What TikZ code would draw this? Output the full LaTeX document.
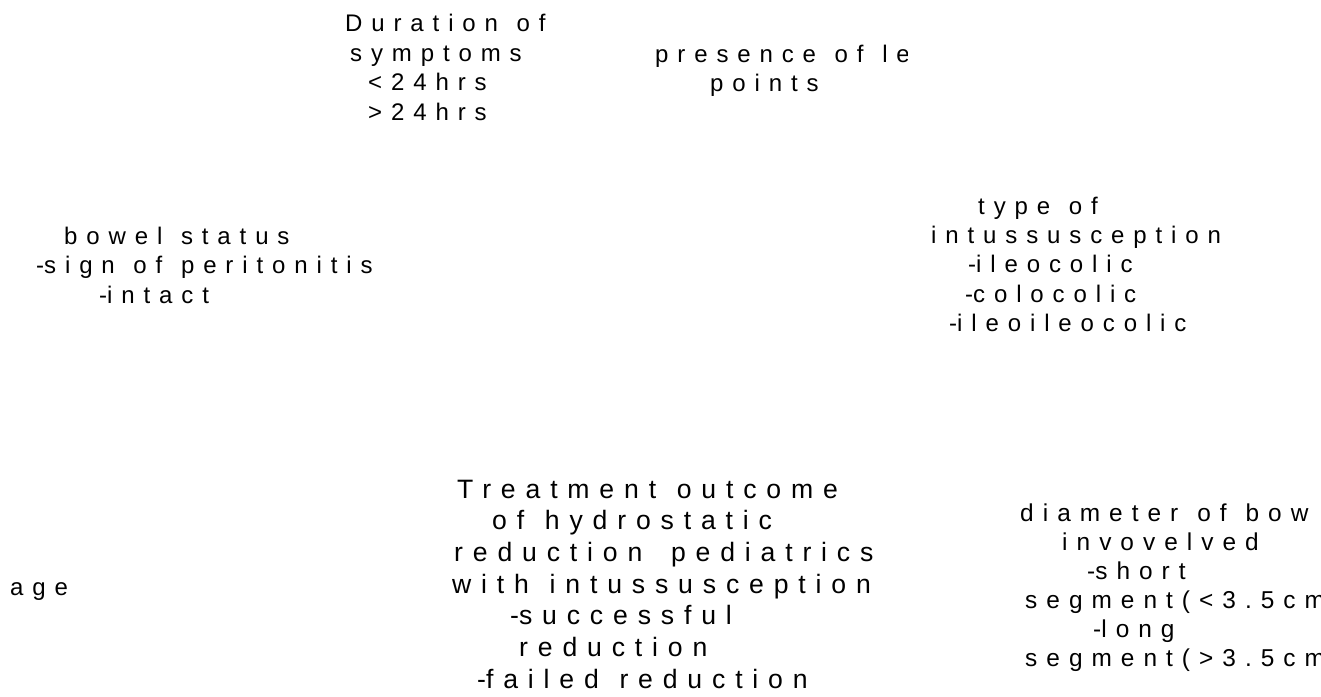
\documentclass[tikz,border=0pt]{standalone}
\usepackage{fontspec}
\setmainfont[LetterSpace=37,WordSpace=1.2]{Liberation Sans}
\usetikzlibrary{positioning}
\newcommand{\tdash}{-\kern0pt}

\begin{document}
\begin{tikzpicture}[x=1pt,y=-1pt,
    lbl/.style={anchor=base west,inner sep=0pt,align=left,
        font=\fontsize{24}{29.4}\selectfont},
    big/.style={lbl,font=\fontsize{26.6}{31.7}\selectfont}]
    \useasboundingbox (0,0) rectangle (1321,696);
    % top row (nodes sit on the baseline of their last line)
    \node[lbl] (dur) at (345,120) {Duration of\\
        \hspace*{5pt}symptoms\\
        \hspace*{23pt}<24hrs\\
        \hspace*{23pt}>24hrs};
    \begin{scope}
        \clip (0,0) rectangle (907,696);
        \node[lbl] (lead) at (655,91.7) {presence of le\\
            \hspace*{55pt}points};
    \end{scope}
    % middle row
    \node[lbl] (bowel) at (36,303.3) {\hspace*{28pt}bowel status\\
        \tdash sign of peritonitis\\
        \hspace*{63pt}\tdash intact};
    \node[lbl] (type) at (931,331.7) {\hspace*{47pt}type of\\
        intussusception\\
        \hspace*{37pt}\tdash ileocolic\\
        \hspace*{34pt}\tdash colocolic\\
        \hspace*{18pt}\tdash ileoileocolic};
    % bottom row
    \node[lbl] (age) at (10,595) {age};
    \node[big] (outcome) at (452,688.3) {\hspace*{5pt}Treatment outcome\\
        \hspace*{40pt}of hydrostatic\\
        \hspace*{2pt}reduction\hspace{8pt} pediatrics\\
        with intussusception\\
        \hspace*{58pt}\tdash successful\\
        \hspace*{67pt}reduction\\
        \hspace*{25pt}\tdash failed reduction};
    \node[lbl,font=\fontsize{24.4}{29}\selectfont] (diam) at (1020,666.7) {diameter of bow\\
        \hspace*{42pt}invovelved\\
        \hspace*{67pt}\tdash short\\
        \hspace*{5pt}segment(<3.5cm\\
        \hspace*{73pt}\tdash long\\
        \hspace*{5pt}segment(>3.5cm};
\end{tikzpicture}
\end{document}
